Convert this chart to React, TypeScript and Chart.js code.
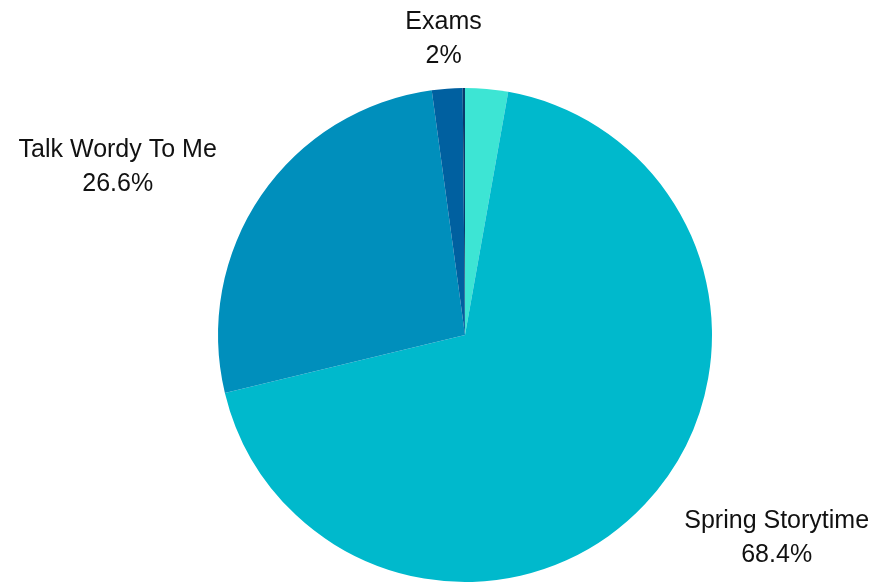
import React, { useEffect, useRef } from "react";
import { Chart, registerables } from "chart.js";

Chart.register(...registerables);

const categories = ["Other", "Spring Storytime", "Talk Wordy To Me", "Exams", "Misc"];
const shares = [2.8, 68.4, 26.6, 2, 0.15];
const showLabel = [false, true, true, true, false];
const colors = ["#3de5d4", "#00b9cc", "#008fbc", "#0060a0", "#0a3a6c"];

const outsideLabels = {
  id: "outsideLabels",
  afterDraw(chart: any) {
    const ctx = chart.ctx;
    const meta = chart.getDatasetMeta(0);
    ctx.save();
    ctx.font = "25px 'Liberation Sans', Arial, sans-serif";
    ctx.fillStyle = "#111111";
    ctx.textBaseline = "middle";
    ctx.textAlign = "center";
    meta.data.forEach((arc: any, i: number) => {
      if (!showLabel[i]) return;
      const { x, y, startAngle, endAngle, outerRadius } = arc.getProps(
        ["x", "y", "startAngle", "endAngle", "outerRadius"],
        true
      );
      const mid = (startAngle + endAngle) / 2;
      const r = outerRadius + 50;
      const px = x + Math.cos(mid) * r;
      const py = y + Math.sin(mid) * r;
      const dx = px - x;
      const lines = [categories[i], shares[i] + "%"];
      const w = Math.max(...lines.map((l) => ctx.measureText(l).width));
      let cx = px;
      if (dx > 60) cx = px + 3 + w / 2;
      else if (dx < -60) cx = px - 3 - w / 2;
      const lh = 34;
      ctx.fillText(lines[0], cx, py - lh / 2);
      ctx.fillText(lines[1], cx, py + lh / 2);
    });
    ctx.restore();
  },
};

export default function App() {
  const ref = useRef<HTMLCanvasElement>(null);
  useEffect(() => {
    if (!ref.current) return;
    const chart = new Chart(ref.current, {
      type: "pie",
      data: {
        labels: categories,
        datasets: [
          {
            data: shares,
            backgroundColor: colors,
            borderWidth: 0,
          },
        ],
      },
      options: {
        animation: false,
        responsive: false,
        maintainAspectRatio: false,
        layout: { padding: { top: 88, bottom: 2, left: 218, right: 162 } },
        plugins: {
          legend: { display: false },
          tooltip: { enabled: false },
        },
      },
      plugins: [outsideLabels],
    });
    return () => chart.destroy();
  }, []);
  return (
    <div style={{ position: "absolute", left: 0, top: 0, width: 874, height: 584, background: "#fff" }}>
      <canvas ref={ref} width={874} height={584} style={{ width: 874, height: 584 }} />
    </div>
  );
}
